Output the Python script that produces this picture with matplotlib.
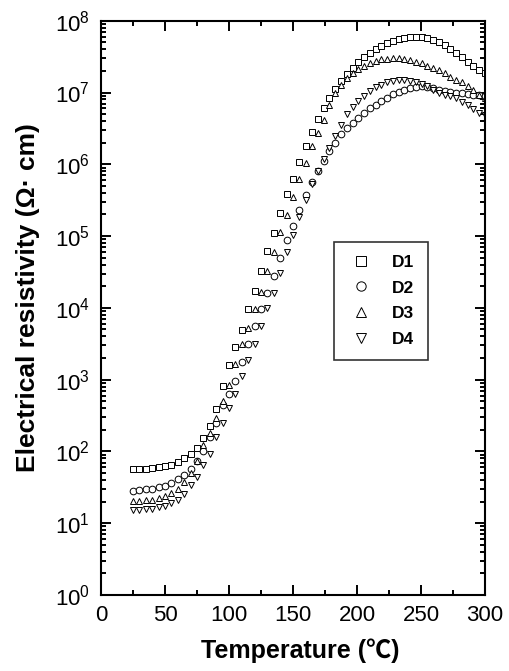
import matplotlib
matplotlib.use('Agg')
import matplotlib.pyplot as plt
import numpy as np
from matplotlib.ticker import LogLocator, MultipleLocator, NullFormatter

plt.rcParams['font.family'] = ['Liberation Sans', 'Noto Sans CJK JP', 'DejaVu Sans']
plt.rcParams['mathtext.fontset'] = 'custom'
plt.rcParams['mathtext.rm'] = 'Liberation Sans'

# Temperature (deg C)
temperature = [25, 30, 35, 40, 45, 50, 55, 60, 65, 70, 75, 80, 85, 90, 95, 100,
               105, 110, 115, 120, 125, 130, 135, 140, 145, 150, 155, 160, 165,
               169.5, 174, 178.5, 183, 187.5, 192, 196.5, 201, 205.5, 210, 214.5,
               219, 223.5, 228, 232.5, 237, 241.5, 246, 250.5, 255, 259.5, 264,
               268.5, 273, 277.5, 282, 286.5, 291, 295.5, 300]

# log10 of electrical resistivity (Ohm cm)
d1_log10 = [1.76, 1.76, 1.76, 1.765, 1.776, 1.794, 1.817, 1.854, 1.91, 1.97, 2.05,
            2.19, 2.36, 2.59, 2.91, 3.2, 3.46, 3.69, 3.98, 4.23, 4.51, 4.79, 5.045,
            5.32, 5.58, 5.8, 6.03, 6.26, 6.45,
            6.63, 6.78, 6.92, 7.05, 7.16, 7.26, 7.34, 7.42, 7.49, 7.55, 7.6, 7.65,
            7.685, 7.72, 7.75, 7.765, 7.777, 7.777, 7.775, 7.765, 7.735, 7.70, 7.66,
            7.60, 7.55, 7.50, 7.43, 7.37, 7.32, 7.27]
d2_log10 = [1.453, 1.46, 1.47, 1.48, 1.50, 1.52, 1.56, 1.61, 1.67, 1.75, 1.86, 2.0,
            2.2, 2.4, 2.65, 2.8, 2.98, 3.25, 3.5, 3.75, 3.99, 4.21, 4.45, 4.7, 4.94,
            5.14, 5.37, 5.57, 5.75,
            5.9, 6.05, 6.18, 6.3, 6.42, 6.5, 6.58, 6.65, 6.72, 6.78, 6.83, 6.88,
            6.93, 6.975, 7.01, 7.04, 7.065, 7.08, 7.085, 7.075, 7.06, 7.04, 7.02,
            7.01, 7.0, 6.99, 6.98, 6.97, 6.96, 6.95]
d3_log10 = [1.31, 1.315, 1.32, 1.33, 1.35, 1.38, 1.42, 1.48, 1.57, 1.7, 1.86, 2.09,
            2.25, 2.47, 2.7, 2.93, 3.22, 3.5, 3.72, 3.99, 4.22, 4.52, 4.78, 5.05,
            5.3, 5.55, 5.8, 6.02, 6.25,
            6.44, 6.62, 6.82, 7.0, 7.1, 7.2, 7.27, 7.33, 7.37, 7.405, 7.44, 7.46,
            7.472, 7.475, 7.475, 7.47, 7.455, 7.43, 7.405, 7.375, 7.34, 7.31, 7.265,
            7.22, 7.18, 7.15, 7.09, 7.03, 6.97, 6.93]
d4_log10 = [1.184, 1.19, 1.195, 1.2, 1.22, 1.245, 1.28, 1.33, 1.4, 1.53, 1.65, 1.81,
            1.97, 2.2, 2.4, 2.6, 2.8, 3.05, 3.27, 3.5, 3.75, 4.0, 4.2, 4.48, 4.78,
            5.01, 5.27, 5.5, 5.72,
            5.9, 6.07, 6.23, 6.4, 6.55, 6.7, 6.8, 6.88, 6.95, 7.02, 7.07, 7.11,
            7.14, 7.16, 7.17, 7.17, 7.165, 7.145, 7.12, 7.085, 7.04, 7.0, 6.97,
            6.95, 6.92, 6.87, 6.82, 6.77, 6.72, 6.68]

series_labels = ['D1', 'D2', 'D3', 'D4']
series_markers = ['s', 'o', '^', 'v']
series_values = [d1_log10, d2_log10, d3_log10, d4_log10]

fig = plt.figure(figsize=(5.1, 6.71), dpi=100)
ax = fig.add_axes([0.198, 0.1133, 0.753, 0.8558])

for lab, mk, vals in zip(series_labels, series_markers, series_values):
    rho = np.power(10.0, np.array(vals))
    ax.plot(temperature, rho, linestyle='none', marker=mk, markersize=4.8,
            markerfacecolor='white', markeredgecolor='black',
            markeredgewidth=0.7, label=lab)

ax.set_yscale('log')
ax.set_xlim(0, 300)
ax.set_ylim(1, 1e8)
ax.yaxis.set_major_locator(LogLocator(base=10, numticks=20))
ax.yaxis.set_minor_locator(LogLocator(base=10, subs=np.arange(2, 10), numticks=200))
ax.yaxis.set_minor_formatter(NullFormatter())
ax.xaxis.set_major_locator(MultipleLocator(50))
ax.xaxis.set_minor_locator(MultipleLocator(25))

for s in ax.spines.values():
    s.set_linewidth(1.5)
ax.tick_params(which='both', direction='in', top=True, right=True, width=1.4)
ax.tick_params(which='major', length=7, labelsize=16)
ax.tick_params(which='minor', length=3.5)
ax.tick_params(axis='y', which='major', pad=8)
ax.tick_params(axis='x', which='major', pad=7)

ax.set_xlabel('Temperature (℃)', fontsize=18, fontweight='bold')
ax.set_ylabel('Electrical resistivity (Ω· cm)', fontsize=19, fontweight='bold')
ax.xaxis.set_label_coords(0.52, -0.075)
ax.yaxis.set_label_coords(-0.16, 0.518)

leg = ax.legend(loc='upper left', bbox_to_anchor=(0.607, 0.615), frameon=True,
                fancybox=False, edgecolor='black', markerscale=1.4,
                prop={'weight': 'bold', 'size': 12.5}, handletextpad=1.0,
                labelspacing=0.6, borderpad=0.75, handlelength=1.6,
                borderaxespad=0)
leg.get_frame().set_linewidth(1.2)

fig.savefig('out.png', dpi=100)
